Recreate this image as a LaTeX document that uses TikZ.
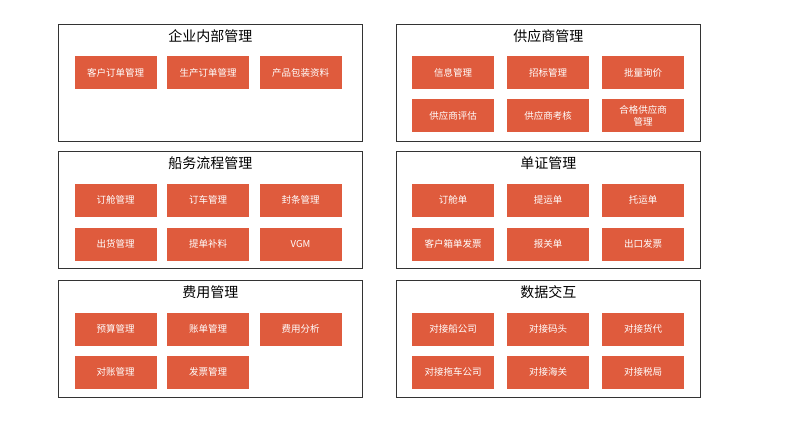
\documentclass[tikz,border=0pt]{standalone}
\usepackage{fontspec}
\setmainfont{Noto Sans CJK SC}
\usetikzlibrary{positioning}
\definecolor{boxred}{HTML}{DF5B3D}
\tikzset{
  panel/.style={draw=black!80, line width=0.8pt, minimum width=304pt, minimum height=117pt, anchor=north west},
  title/.style={font=\fontsize{14}{16}\selectfont},
  item/.style={fill=boxred, text=white, minimum width=82pt, minimum height=33pt, inner sep=1pt,
    align=center, text width=78pt, font=\fontsize{9.5}{12}\selectfont, drop shadow/.try}
}
\begin{document}
\begin{tikzpicture}[x=1pt,y=-1pt]
  \useasboundingbox (0,0) rectangle (800,425);

  % panels
  \node [panel] (P1) at (58,24) {};
  \node [panel] (P2) at (58,151) {};
  \node [panel] (P3) at (58,280) {};
  \node [panel] (P4) at (396,24) {};
  \node [panel] (P5) at (396,151) {};
  \node [panel] (P6) at (396,280) {};

  \node [title, below = 2pt of P1.north] (T1) {企业内部管理};
  \node [title, below = 2pt of P2.north] (T2) {船务流程管理};
  \node [title, below = 2pt of P3.north] (T3) {费用管理};
  \node [title, below = 2pt of P4.north] (T4) {供应商管理};
  \node [title, below = 2pt of P5.north] (T5) {单证管理};
  \node [title, below = 2pt of P6.north] (T6) {数据交互};

  % left column items
  \foreach \t [count=\i, evaluate=\i as \xx using {115.5+92.5*(\i-1)}] in {客户订单管理,生产订单管理,产品包装资料}
    \node [item] (A\i) at (\xx,73) {\t};
  \foreach \t [count=\i, evaluate=\i as \xx using {115.5+92.5*(\i-1)}] in {订舱管理,订车管理,封条管理}
    \node [item] (B\i) at (\xx,200) {\t};
  \foreach \t [count=\i, evaluate=\i as \xx using {115.5+92.5*(\i-1)}] in {出货管理,提单补料,VGM}
    \node [item] (C\i) at (\xx,244) {\t};
  \foreach \t [count=\i, evaluate=\i as \xx using {115.5+92.5*(\i-1)}] in {预算管理,账单管理,费用分析}
    \node [item] (D\i) at (\xx,329) {\t};
  \foreach \t [count=\i, evaluate=\i as \xx using {115.5+92.5*(\i-1)}] in {对账管理,发票管理}
    \node [item] (E\i) at (\xx,372) {\t};

  % right column items
  \foreach \t [count=\i, evaluate=\i as \xx using {453+95*(\i-1)}] in {信息管理,招标管理,批量询价}
    \node [item] (F\i) at (\xx,73) {\t};
  \foreach \t [count=\i, evaluate=\i as \xx using {453+95*(\i-1)}] in {供应商评估,供应商考核,合格供应商\\管理}
    \node [item] (G\i) at (\xx,116) {\t};
  \foreach \t [count=\i, evaluate=\i as \xx using {453+95*(\i-1)}] in {订舱单,提运单,托运单}
    \node [item] (H\i) at (\xx,200) {\t};
  \foreach \t [count=\i, evaluate=\i as \xx using {453+95*(\i-1)}] in {客户箱单发票,报关单,出口发票}
    \node [item] (I\i) at (\xx,244) {\t};
  \foreach \t [count=\i, evaluate=\i as \xx using {453+95*(\i-1)}] in {对接船公司,对接码头,对接货代}
    \node [item] (J\i) at (\xx,329) {\t};
  \foreach \t [count=\i, evaluate=\i as \xx using {453+95*(\i-1)}] in {对接拖车公司,对接海关,对接税局}
    \node [item] (K\i) at (\xx,372) {\t};
\end{tikzpicture}
\end{document}
